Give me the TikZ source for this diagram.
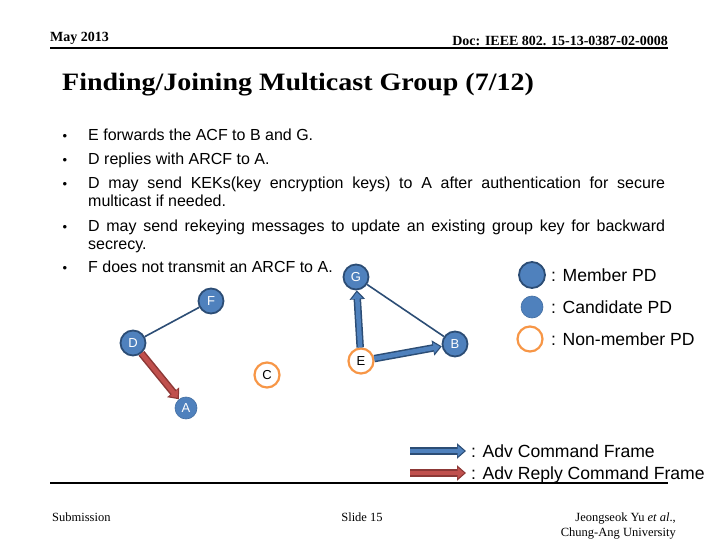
\documentclass[tikz,border=0pt]{standalone}
\usepackage{fontspec}
\setmainfont{Liberation Serif}
\newfontfamily\arial{Liberation Sans}
\usetikzlibrary{arrows.meta}
\definecolor{nodeblue}{HTML}{4F81BD}
\definecolor{nodedark}{HTML}{2C4D75}
\definecolor{ringorange}{HTML}{F79646}
\definecolor{arrred}{HTML}{C0504D}
\definecolor{arrreddark}{HTML}{8C3836}
\definecolor{arrblue}{HTML}{4F81BD}
\definecolor{arrbluedark}{HTML}{2C4D75}
\tikzset{
  member/.style={circle, fill=nodeblue, draw=nodedark, line width=1.8pt, minimum size=25pt, inner sep=0pt, text=white, font=\arial\fontsize{13}{13}\selectfont},
  candidate/.style={circle, fill=nodeblue, draw=nodeblue!85!black, line width=0.6pt, minimum size=22pt, inner sep=0pt, text=white, font=\arial\fontsize{13}{13}\selectfont},
  nonmember/.style={circle, fill=white, draw=ringorange, line width=2.2pt, minimum size=25pt, inner sep=0pt, text=black, font=\arial\fontsize{13}{13}\selectfont},
  link/.style={draw=nodedark, line width=1.6pt},
  bluearrowout/.style={draw=arrbluedark, line width=7.5pt, -{Triangle[length=9pt,width=15pt]}},
  bluearrowin/.style={draw=arrblue, line width=4.5pt, shorten >=1.8pt, -{Triangle[length=6.5pt,width=10.5pt]}},
  redarrowout/.style={draw=arrreddark, line width=7.5pt, -{Triangle[length=9pt,width=15pt]}},
  redarrowin/.style={draw=arrred, line width=4.5pt, shorten >=1.8pt, -{Triangle[length=6.5pt,width=10.5pt]}},
  bodytext/.style={anchor=base west, inner sep=0pt, font=\arial\fontsize{16}{16}\selectfont},
  bul/.style={anchor=base, inner sep=0pt, font=\arial\fontsize{13}{13}\selectfont},
  legtext/.style={anchor=west, inner sep=0pt, font=\arial\fontsize{17.6}{17.6}\selectfont},
  foot/.style={inner sep=0pt, font=\fontsize{12.5}{12.5}\selectfont},
  rule/.style={line width=2pt},
}
\begin{document}
\begin{tikzpicture}[x=1pt,y=-1pt]
\path[use as bounding box, fill=white] (0,0) rectangle (720,540);
% header
\node[anchor=base west, inner sep=0pt, font=\bfseries\fontsize{14}{14}\selectfont] (date) at (50,42) {May 2013};
\node[anchor=base east, inner sep=0pt, font=\bfseries\fontsize{14}{14}\selectfont] (doc) at (668,45.5) {Doc: IEEE 802. 15-13-0387-02-0008};
\coordinate (hl) at (50,48); \coordinate (hr) at (668,48);
\draw[rule] (hl) -- (hr);
\node[anchor=base west, inner sep=0pt, font=\bfseries\fontsize{25}{25}\selectfont] (title) at (62,91) {\scalebox{1.12}[1]{Finding/Joining Multicast Group (7/12)}};
% bullets
\node[bul] (b1) at (65,141) {•};
\node[bodytext] (t1) at (88,141) {E forwards the ACF to B and G.};
\node[bul] (b2) at (65,165) {•};
\node[bodytext] (t2) at (88,165) {D replies with ARCF to A.};
\node[bul] (b3) at (65,189) {•};
\node[bodytext] (t3) at (88,189) {\makebox[577pt][s]{D may send KEKs(key encryption keys) to A after authentication for secure}};
\node[bodytext] (t3b) at (88,207) {multicast if needed.};
\node[bul] (b4) at (65,231) {•};
\node[bodytext] (t4) at (88,231) {\makebox[577pt][s]{D may send rekeying messages to update an existing group key for backward}};
\node[bodytext] (t4b) at (88,249) {secrecy.};
\node[bul] (b5) at (65,272) {•};
\node[bodytext] (t5) at (88,272) {F does not transmit an ARCF to A.};
% nodes
\node[member] (G) at (356,277) {G};
\node[member] (F) at (211,301) {F};
\node[member] (D) at (133,343) {D};
\node[candidate] (A) at (186,408) {A};
\node[nonmember] (C) at (267,375) {C};
\node[nonmember] (E) at (361,361) {E};
\node[member] (B) at (455,344) {B};
% links
\draw[link] (F) -- (D);
\draw[link] (G) -- (B);
% arrows
\draw[redarrowout] (D) -- (A);
\draw[redarrowin] (D) -- (A);
\draw[bluearrowout] (E) -- (G);
\draw[bluearrowin] (E) -- (G);
\draw[bluearrowout] (E) -- (B);
\draw[bluearrowin] (E) -- (B);
% legend
\node[member, minimum size=26pt] (lm) at (532,275) {};
\node[legtext] (lmt) at (551,275) {: Member PD};
\node[candidate] (lc) at (532,307) {};
\node[legtext] (lct) at (551,307) {: Candidate PD};
\node[nonmember] (ln) at (530,339) {};
\node[legtext] (lnt) at (551,339) {: Non-member PD};
\coordinate (la1s) at (410,451); \coordinate (la1e) at (466,451);
\draw[bluearrowout] (la1s) -- (la1e);
\draw[bluearrowin] (la1s) -- (la1e);
\node[legtext] (la1t) at (471,451) {: Adv Command Frame};
\coordinate (la2s) at (410,473); \coordinate (la2e) at (466,473);
\draw[redarrowout] (la2s) -- (la2e);
\draw[redarrowin] (la2s) -- (la2e);
\node[legtext] (la2t) at (471,475) {: Adv Reply Command Frame};
% footer
\coordinate (fl) at (50,483); \coordinate (fr) at (668,483);
\draw[rule] (fl) -- (fr);
\node[foot, anchor=base west] (sub) at (52,521) {Submission};
\node[foot, anchor=base] (slide) at (362,521) {Slide 15};
\node[foot, anchor=base east] (auth) at (676,521) {Jeongseok Yu \textit{et al}.,};
\node[foot, anchor=base east] (univ) at (676,536) {Chung-Ang University};
\end{tikzpicture}
\end{document}
